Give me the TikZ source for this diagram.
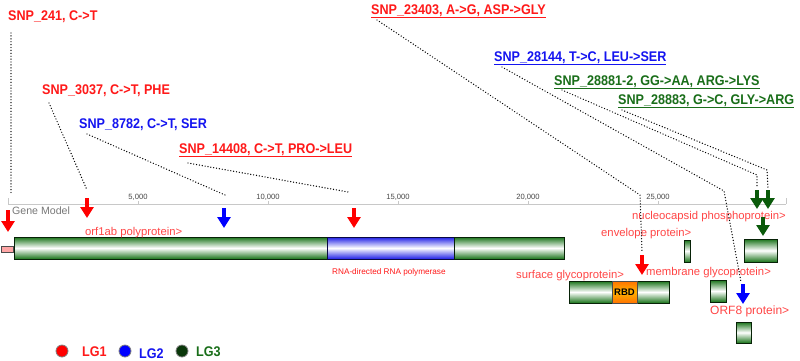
\documentclass[tikz,border=0pt]{standalone}
\usepackage{fontspec}
\setmainfont{Liberation Sans}
\usepackage{graphicx}
\usetikzlibrary{arrows.meta}
\definecolor{snpred}{RGB}{255,25,25}
\definecolor{snpblue}{RGB}{20,20,240}
\definecolor{snpgreen}{RGB}{25,110,25}
\definecolor{featred}{RGB}{255,70,70}
\definecolor{bargreen}{RGB}{25,115,25}
\definecolor{barblue}{RGB}{30,30,230}
\definecolor{darkg}{RGB}{10,90,10}
\definecolor{legdark}{RGB}{10,55,10}
\definecolor{axisgrey}{RGB}{200,200,200}
\definecolor{txtgrey}{RGB}{120,120,120}
\newcommand{\snptxt}[1]{\scalebox{0.9}[1]{\fontsize{14}{16}\selectfont\bfseries #1}}
\begin{document}
\begin{tikzpicture}[x=1pt,y=-1pt,
  snplabel/.style={anchor=base west, inner sep=0pt},
  featlabel/.style={anchor=base west, inner sep=0pt, text=featred, font=\fontsize{11.3}{13}\selectfont},
  ticklabel/.style={anchor=base, inner sep=0pt, text=txtgrey!60!black, font=\fontsize{7.6}{8}\selectfont},
  dotline/.style={black, line width=1.4pt, line cap=round, dash pattern=on 0pt off 2.9pt},
  snparrow/.style={line width=3.6pt, -{Triangle[width=13pt,length=11pt]}},
  greenbar/.style={draw=black!70!bargreen, line width=0.8pt, top color=bargreen, bottom color=bargreen, middle color=white},
  bluebar/.style={draw=black!70!barblue, line width=0.8pt, top color=barblue, bottom color=barblue, middle color=white},
  legdot/.style={circle, draw=gray, line width=0.8pt, minimum size=12pt, inner sep=0pt}
]
\useasboundingbox (0,0) rectangle (800,360);
\fill[white] (0,0) rectangle (800,360);

% axis
\draw[axisgrey, line width=0.8pt] (8,204) -- (786,204);
\foreach \x in {8,786} \draw[axisgrey, line width=0.8pt] (\x,204) -- (\x,198);
\foreach \x/\t in {138/{5,000},268/{10,000},398/{15,000},528/{20,000},658/{25,000}}{
  \draw[axisgrey, line width=0.6pt] (\x,204) -- (\x,201);
  \node[ticklabel] at (\x,199) {\t};
}
\node[anchor=west, inner sep=0pt, text=txtgrey, font=\fontsize{10.6}{12}\selectfont] (gm) at (12,211) {Gene Model};

% gene bars
\draw[draw=black!70, fill=red!35, line width=0.8pt] (1,246) rectangle (13,252);
\draw[greenbar] (14,237) rectangle (327,259);
\draw[bluebar] (327,237) rectangle (454,259);
\draw[greenbar] (454,237) rectangle (564,259);
\draw[greenbar] (569,281) rectangle (669,303);
\draw[draw=black!70, line width=0.8pt, top color=orange!90!red, bottom color=orange!90!red, middle color=orange!60!yellow] (612,281) rectangle (637,303);
\node[inner sep=0pt, font=\fontsize{9.5}{10}\selectfont\bfseries] (rbd) at (624.5,292) {RBD};
\draw[greenbar] (684,240) rectangle (690,262);
\draw[greenbar] (710,280) rectangle (726,302);
\draw[greenbar] (744,239) rectangle (777,262);
\draw[greenbar] (736,322) rectangle (751,343);

% feature labels
\node[featlabel] (orf1ab) at (85,235) {orf1ab polyprotein>};
\node[anchor=base west, inner sep=0pt, text=snpred, font=\fontsize{8.2}{9}\selectfont] (rdrp) at (332,274) {RNA-directed RNA polymerase};
\node[featlabel] (sgp) at (516,278) {surface glycoprotein>};
\node[featlabel] (mgp) at (646,275) {membrane glycoprotein>};
\node[featlabel] (env) at (601,236) {envelope protein>};
\node[featlabel] (ncp) at (632,219) {nucleocapsid phosphoprotein>};
\node[featlabel, font=\fontsize{12}{14}\selectfont] (orf8) at (710,314) {ORF8 protein>};

% SNP labels
\node[snplabel, text=snpred] (l241) at (8,20) {\snptxt{SNP\_241, C->T}};
\node[snplabel, text=snpred] (l3037) at (42,94) {\snptxt{SNP\_3037, C->T, PHE}};
\node[snplabel, text=snpblue] (l8782) at (79,128) {\snptxt{SNP\_8782, C->T, SER}};
\node[snplabel, text=snpred] (l14408) at (179,153) {\snptxt{\underline{SNP\_14408, C->T, PRO->LEU}}};
\node[snplabel, text=snpred] (l23403) at (371,14) {\snptxt{\underline{SNP\_23403, A->G, ASP->GLY}}};
\node[snplabel, text=snpblue] (l28144) at (494,61) {\snptxt{\underline{SNP\_28144, T->C, LEU->SER}}};
\node[snplabel, text=snpgreen] (l28881) at (554,85) {\snptxt{\underline{SNP\_28881-2, GG->AA, ARG->LYS}}};
\node[snplabel, text=snpgreen] (l28883) at (618,104) {\snptxt{\underline{SNP\_28883, G->C, GLY->ARG}}};

% connector coordinates
\coordinate (s241) at (11,33);    \coordinate (e241) at (11,193);
\coordinate (s3037) at (49,103);  \coordinate (e3037) at (87,190);
\coordinate (s8782) at (87,134);  \coordinate (e8782) at (225,195);
\coordinate (s14408) at (188,163); \coordinate (e14408) at (348,192);
\coordinate (s23403) at (377,20); \coordinate (b23403) at (640,195); \coordinate (e23403) at (642,252);
\coordinate (s28144) at (502,67); \coordinate (b28144) at (724,191); \coordinate (e28144) at (741,282);
\coordinate (s28881) at (562,90); \coordinate (b28881) at (757,175); \coordinate (e28881) at (757,188);
\coordinate (s28883) at (622,110); \coordinate (b28883) at (767,170); \coordinate (e28883) at (768,188);

\draw[dotline] (s241) -- (e241);
\draw[dotline] (s3037) -- (e3037);
\draw[dotline] (s8782) -- (e8782);
\draw[dotline] (s14408) -- (e14408);
\draw[dotline] (s23403) -- (b23403) -- (e23403);
\draw[dotline] (s28144) -- (b28144) -- (e28144);
\draw[dotline] (s28881) -- (b28881) -- (e28881);
\draw[dotline] (s28883) -- (b28883) -- (e28883);

% SNP arrows
\coordinate (a241t) at (8,210);   \coordinate (a241b) at (8,232);
\coordinate (a3037t) at (87,198); \coordinate (a3037b) at (87,218);
\coordinate (a8782t) at (224,208); \coordinate (a8782b) at (224,228);
\coordinate (a14408t) at (354,208); \coordinate (a14408b) at (354,228);
\coordinate (a23403t) at (642,255); \coordinate (a23403b) at (642,275);
\coordinate (a28144t) at (743,284); \coordinate (a28144b) at (743,304);
\coordinate (ag1t) at (757,190); \coordinate (ag1b) at (757,209);
\coordinate (ag2t) at (768,190); \coordinate (ag2b) at (768,209);
\coordinate (ag3t) at (763,217); \coordinate (ag3b) at (763,236);
\draw[snparrow, red] (a241t) -- (a241b);
\draw[snparrow, red] (a3037t) -- (a3037b);
\draw[snparrow, blue] (a8782t) -- (a8782b);
\draw[snparrow, red] (a14408t) -- (a14408b);
\draw[snparrow, red] (a23403t) -- (a23403b);
\draw[snparrow, blue] (a28144t) -- (a28144b);
\draw[snparrow, darkg] (ag1t) -- (ag1b);
\draw[snparrow, darkg] (ag2t) -- (ag2b);
\draw[snparrow, darkg] (ag3t) -- (ag3b);

% legend
\node[legdot, fill=red] (d1) at (62,351) {};
\node[snplabel, text=snpred] (t1) at (82,356) {\snptxt{LG1}};
\node[legdot, fill=blue] (d2) at (125,351) {};
\node[snplabel, text=snpblue] (t2) at (139,358) {\snptxt{LG2}};
\node[legdot, fill=legdark] (d3) at (182,351) {};
\node[snplabel, text=snpgreen] (t3) at (196,356) {\snptxt{LG3}};
\end{tikzpicture}
\end{document}
